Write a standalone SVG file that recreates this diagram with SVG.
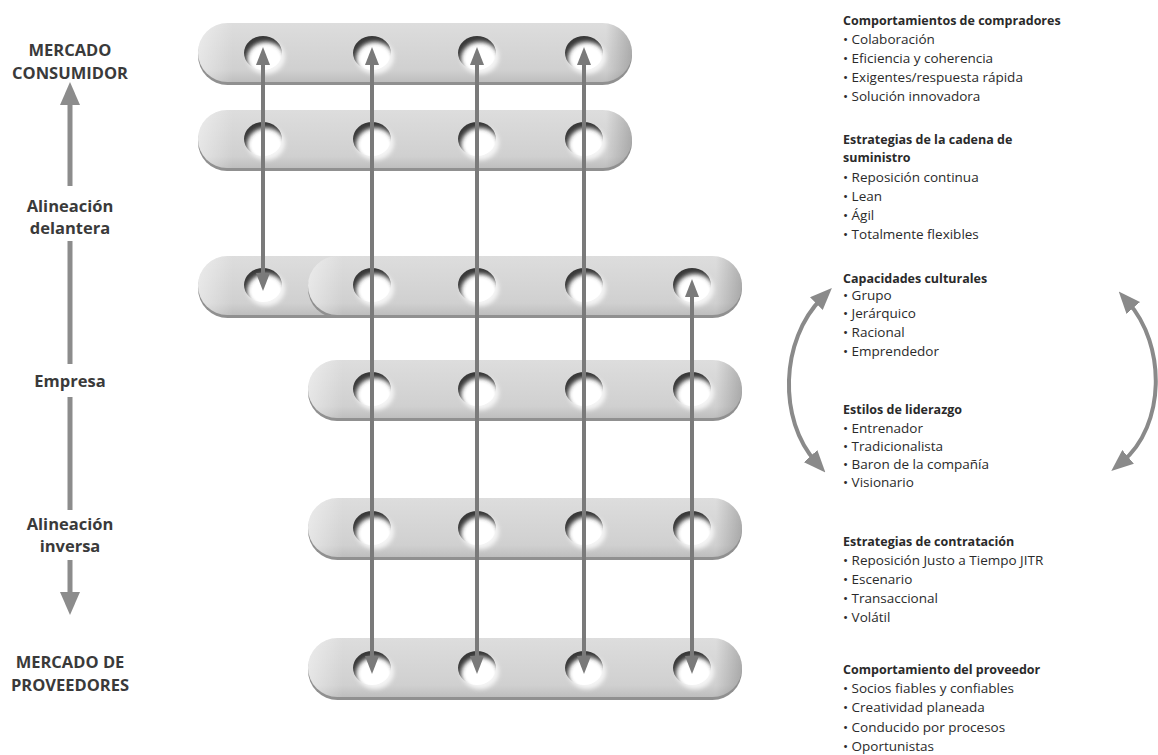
<svg xmlns="http://www.w3.org/2000/svg" xmlns:xlink="http://www.w3.org/1999/xlink" width="1158" height="755" viewBox="0 0 1158 755">
<style>
.lbl{font-family:"Open Sans","Noto Sans",sans-serif;font-weight:700;font-size:16.5px;fill:#3a3a3a;text-anchor:middle}
.hd{font-family:"Open Sans","Noto Sans",sans-serif;font-weight:700;font-size:12.5px;fill:#2a2a2a}
.it{font-family:"Open Sans","Noto Sans",sans-serif;font-size:13.5px;fill:#2a2a2a}
.conn{stroke:#7a7a7a;stroke-width:4;fill:none}
.axis{stroke:#8c8c8c;stroke-width:5;fill:none}
.arc{stroke:#8a8a8a;stroke-width:4;fill:none}
.shadow{fill:#909090}
.body{fill:url(#pillV)}
.over{fill:url(#pillH)}
</style>
<defs>
<linearGradient id="pillV" x1="0" y1="0" x2="0" y2="1">
<stop offset="0" stop-color="#dddddd"/>
<stop offset="0.8" stop-color="#d0d0d0"/>
<stop offset="1" stop-color="#bebebe"/>
</linearGradient>
<linearGradient id="pillH" x1="0" y1="0" x2="1" y2="0">
<stop offset="0" stop-color="#ffffff" stop-opacity="0.45"/>
<stop offset="0.08" stop-color="#ffffff" stop-opacity="0"/>
<stop offset="0.94" stop-color="#000000" stop-opacity="0"/>
<stop offset="1" stop-color="#000000" stop-opacity="0.2"/>
</linearGradient>
<clipPath id="hc"><ellipse cx="0" cy="0" rx="19" ry="17"/></clipPath>
<filter id="blur" x="-50%" y="-50%" width="200%" height="200%"><feGaussianBlur stdDeviation="2.2"/></filter>
<filter id="soft" x="-50%" y="-50%" width="200%" height="200%"><feGaussianBlur stdDeviation="2"/></filter>
<g id="hole">
<ellipse cx="3" cy="4" rx="19" ry="17" fill="#f4f4f4" filter="url(#soft)"/>
<ellipse cx="0" cy="0" rx="19" ry="17" fill="#ffffff"/>
<g clip-path="url(#hc)">
<path d="M-60,-60H60V60H-60Z M-16,6a19,17 0 1,0 38,0a19,17 0 1,0 -38,0Z" fill-rule="evenodd" fill="#383838" filter="url(#blur)"/>
</g>
</g>
<marker id="ah" viewBox="0 0 18 14" refX="8" refY="7" markerWidth="18" markerHeight="14" markerUnits="userSpaceOnUse" orient="auto-start-reverse">
<path d="M0,0 L18,7 L0,14 Z" fill="#7a7a7a"/>
</marker>
<marker id="ah2" viewBox="0 0 22 18" refX="8" refY="9" markerWidth="22" markerHeight="18" markerUnits="userSpaceOnUse" orient="auto-start-reverse">
<path d="M0,0 L22,9 L0,18 Z" fill="#8a8a8a"/>
</marker>
</defs>
<rect width="1158" height="755" fill="#ffffff"/>

<g id="labels-left">
<text class="lbl" x="70" y="56">MERCADO</text>
<text class="lbl" x="70" y="79">CONSUMIDOR</text>
<text class="lbl" x="70" y="212">Alineación</text>
<text class="lbl" x="70" y="234">delantera</text>
<text class="lbl" x="70" y="387">Empresa</text>
<text class="lbl" x="70" y="530">Alineación</text>
<text class="lbl" x="70" y="552">inversa</text>
<text class="lbl" x="70" y="668">MERCADO DE</text>
<text class="lbl" x="70" y="691">PROVEEDORES</text>
</g>

<g id="pill-1">
<rect class="shadow" x="198" y="26" width="434" height="59" rx="29.5"/>
<rect class="body" x="198" y="23" width="434" height="59" rx="29.5"/>
<rect class="over" x="198" y="23" width="434" height="59" rx="29.5"/>
<use xlink:href="#hole" x="263" y="53"/><use xlink:href="#hole" x="372" y="53"/><use xlink:href="#hole" x="477" y="53"/><use xlink:href="#hole" x="584" y="53"/>
</g>
<g id="pill-2">
<rect class="shadow" x="198" y="113" width="434" height="58" rx="29"/>
<rect class="body" x="198" y="110" width="434" height="58" rx="29"/>
<rect class="over" x="198" y="110" width="434" height="58" rx="29"/>
<use xlink:href="#hole" x="263" y="139"/><use xlink:href="#hole" x="372" y="139"/><use xlink:href="#hole" x="477" y="139"/><use xlink:href="#hole" x="584" y="139"/>
</g>
<g id="pill-3a">
<rect class="shadow" x="198" y="259" width="434" height="59" rx="29.5"/>
<rect class="body" x="198" y="256" width="434" height="59" rx="29.5"/>
<rect class="over" x="198" y="256" width="434" height="59" rx="29.5"/>
<use xlink:href="#hole" x="263" y="285"/>
</g>
<g id="pill-3b">
<rect class="shadow" x="308" y="259" width="434" height="59" rx="29.5"/>
<rect class="body" x="308" y="256" width="434" height="59" rx="29.5"/>
<rect class="over" x="308" y="256" width="434" height="59" rx="29.5"/>
<use xlink:href="#hole" x="372" y="285"/><use xlink:href="#hole" x="477" y="285"/><use xlink:href="#hole" x="584" y="285"/><use xlink:href="#hole" x="692" y="285"/>
</g>
<g id="pill-4">
<rect class="shadow" x="308" y="363" width="434" height="58" rx="29"/>
<rect class="body" x="308" y="360" width="434" height="58" rx="29"/>
<rect class="over" x="308" y="360" width="434" height="58" rx="29"/>
<use xlink:href="#hole" x="372" y="389"/><use xlink:href="#hole" x="477" y="389"/><use xlink:href="#hole" x="584" y="389"/><use xlink:href="#hole" x="692" y="389"/>
</g>
<g id="pill-5">
<rect class="shadow" x="308" y="501" width="434" height="59" rx="29.5"/>
<rect class="body" x="308" y="498" width="434" height="59" rx="29.5"/>
<rect class="over" x="308" y="498" width="434" height="59" rx="29.5"/>
<use xlink:href="#hole" x="372" y="528"/><use xlink:href="#hole" x="477" y="528"/><use xlink:href="#hole" x="584" y="528"/><use xlink:href="#hole" x="692" y="528"/>
</g>
<g id="pill-6">
<rect class="shadow" x="308" y="641" width="434" height="59" rx="29.5"/>
<rect class="body" x="308" y="638" width="434" height="59" rx="29.5"/>
<rect class="over" x="308" y="638" width="434" height="59" rx="29.5"/>
<use xlink:href="#hole" x="372" y="668"/><use xlink:href="#hole" x="477" y="668"/><use xlink:href="#hole" x="584" y="668"/><use xlink:href="#hole" x="692" y="668"/>
</g>

<g id="connectors">
<path class="conn" d="M263,57 V281" marker-start="url(#ah)" marker-end="url(#ah)"/>
<path class="conn" d="M372,57 V664" marker-start="url(#ah)" marker-end="url(#ah)"/>
<path class="conn" d="M477,57 V664" marker-start="url(#ah)" marker-end="url(#ah)"/>
<path class="conn" d="M584,57 V664" marker-start="url(#ah)" marker-end="url(#ah)"/>
<path class="conn" d="M692,289 V664" marker-start="url(#ah)" marker-end="url(#ah)"/>
<polygon points="70,82 60,105 80,105" fill="#8c8c8c"/>
<path class="axis" d="M70,104 V186 M70,241 V364 M70,397 V510 M70,560 V593"/>
<polygon points="60,592 80,592 70,615" fill="#8c8c8c"/>
<path class="arc" d="M822,298 C780,340 778,420 816,462" marker-start="url(#ah2)" marker-end="url(#ah2)"/>
<path class="arc" d="M1128,302 C1166,345 1166,425 1122,462" marker-start="url(#ah2)" marker-end="url(#ah2)"/>
</g>

<g id="text-compradores">
<text class="hd" x="843" y="25">Comportamientos de compradores</text>
<text class="it" x="843" y="44">• Colaboración</text>
<text class="it" x="843" y="63">• Eficiencia y coherencia</text>
<text class="it" x="843" y="82">• Exigentes/respuesta rápida</text>
<text class="it" x="843" y="101">• Solución innovadora</text>
</g>
<g id="text-estrategias">
<text class="hd" x="843" y="144">Estrategias de la cadena de</text>
<text class="hd" x="843" y="162">suministro</text>
<text class="it" x="843" y="182">• Reposición continua</text>
<text class="it" x="843" y="201">• Lean</text>
<text class="it" x="843" y="220">• Ágil</text>
<text class="it" x="843" y="239">• Totalmente flexibles</text>
</g>
<g id="text-capacidades">
<text class="hd" x="843" y="283">Capacidades culturales</text>
<text class="it" x="843" y="300">• Grupo</text>
<text class="it" x="843" y="318">• Jerárquico</text>
<text class="it" x="843" y="337">• Racional</text>
<text class="it" x="843" y="356">• Emprendedor</text>
</g>
<g id="text-liderazgo">
<text class="hd" x="843" y="414">Estilos de liderazgo</text>
<text class="it" x="843" y="433">• Entrenador</text>
<text class="it" x="843" y="451">• Tradicionalista</text>
<text class="it" x="843" y="469">• Baron de la compañía</text>
<text class="it" x="843" y="487">• Visionario</text>
</g>
<g id="text-contratacion">
<text class="hd" x="843" y="546">Estrategias de contratación</text>
<text class="it" x="843" y="565">• Reposición Justo a Tiempo JITR</text>
<text class="it" x="843" y="584">• Escenario</text>
<text class="it" x="843" y="603">• Transaccional</text>
<text class="it" x="843" y="622">• Volátil</text>
</g>
<g id="text-proveedor">
<text class="hd" x="843" y="674">Comportamiento del proveedor</text>
<text class="it" x="843" y="693">• Socios fiables y confiables</text>
<text class="it" x="843" y="712">• Creatividad planeada</text>
<text class="it" x="843" y="732">• Conducido por procesos</text>
<text class="it" x="843" y="751">• Oportunistas</text>
</g>
</svg>
